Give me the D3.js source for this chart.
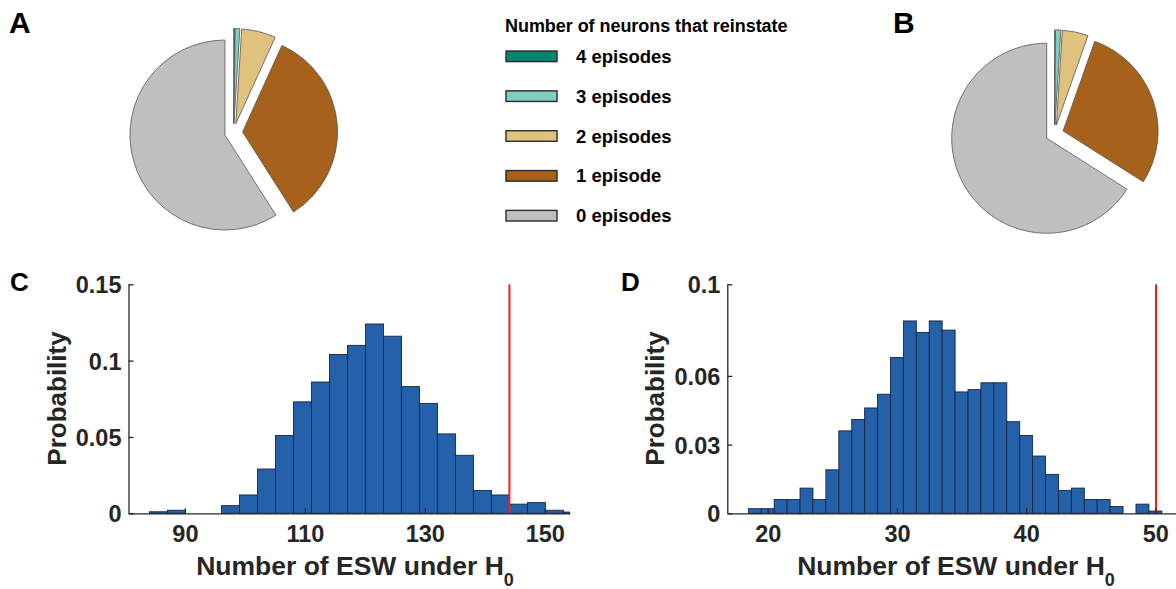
<!DOCTYPE html>
<html><head><meta charset="utf-8">
<script src="https://cdn.jsdelivr.net/npm/d3@7"></script>
<style>
html,body{margin:0;padding:0;background:#fff;}
svg{display:block;font-family:"Liberation Sans",Arial,Helvetica,sans-serif;}
</style></head>
<body><svg id="chart" width="1176" height="589"></svg>
<script>
// ---------- data ----------
const pieCategories = ["4 episodes", "3 episodes", "2 episodes", "1 episode", "0 episodes"];
const pieColors = ["#018571", "#80cdc1", "#dfc27d", "#a6611a", "#bfbfbf"];
const pieAValues = [0.2, 0.8, 5.8, 34.2, 59.0];
const pieBValues = [0.1, 0.9, 4.4, 28.6, 66.0];
const legendTitle = "Number of neurons that reinstate";

const histCCenters = [85.6, 88.6, 91.6, 94.6, 97.6, 100.6, 103.6, 106.6, 109.6, 112.6, 115.6, 118.6,
  121.6, 124.6, 127.6, 130.6, 133.6, 136.6, 139.6, 142.6, 145.6, 148.6, 151.6, 154.6];
const histCValues = [0.001, 0.002, 0, 0, 0.005, 0.012, 0.029, 0.051, 0.073, 0.086, 0.104, 0.110,
  0.124, 0.116, 0.083, 0.072, 0.052, 0.038, 0.015, 0.012, 0.006, 0.007, 0.002, 0.0008];
const histCBinWidth = 3;
const histCObserved = 144.1;
const histCXTicks = [90, 110, 130, 150];
const histCYTicks = [0, 0.05, 0.1, 0.15];
const histCYTickLabels = ["0", "0.05", "0.1", "0.15"];

const histDCenters = [19, 20, 21, 22, 23, 24, 25, 26, 27, 28, 29, 30, 31, 32, 33, 34, 35, 36, 37, 38,
  39, 40, 41, 42, 43, 44, 45, 46, 47, 48, 49, 50];
const histDValues = [0.002, 0.002, 0.006, 0.006, 0.011, 0.006, 0.019, 0.036, 0.041, 0.046, 0.052, 0.068,
  0.084, 0.079, 0.084, 0.080, 0.053, 0.054, 0.057, 0.057, 0.040, 0.034, 0.025, 0.017, 0.010, 0.011,
  0.006, 0.006, 0.003, 0, 0.004, 0.001];
const histDBinWidth = 1;
const histDObserved = 50.05;
const histDXTicks = [20, 30, 40, 50];
const histDYTicks = [0, 0.03, 0.06, 0.1];
const histDYTickLabels = ["0", "0.03", "0.06", "0.1"];

// ---------- drawing ----------
const svg = d3.select("#chart");
const axisColor = "#262626";

// panel letters
[["A", 9, 33], ["B", 893, 33], ["C", 10, 291], ["D", 621, 291]].forEach(([t, x, y], i) => {
  svg.append("text").attr("x", x).attr("y", y).text(t)
    .attr("font-size", i < 2 ? 30 : 26).attr("font-weight", "bold").attr("fill", "#000");
});

// pies
function drawPie(values, cx, cy, r, explode) {
  const pie = d3.pie().sort(null).startAngle(0).endAngle(2 * Math.PI);
  const arc = d3.arc().innerRadius(0).outerRadius(r);
  const g = svg.append("g").attr("transform", `translate(${cx},${cy})`);
  pie(values).forEach((d, i) => {
    const mid = (d.startAngle + d.endAngle) / 2;
    const dx = Math.sin(mid) * explode, dy = -Math.cos(mid) * explode;
    g.append("path").attr("d", arc(d))
      .attr("transform", `translate(${dx},${dy})`)
      .attr("fill", pieColors[i])
      .attr("stroke", "#555").attr("stroke-width", 0.8)
      .attr("stroke-linejoin", "round");
  });
}
drawPie(pieAValues, 233.6, 132.5, 95, 9);
drawPie(pieBValues, 1054.6, 133.9, 95, 9);

// legend
const lg = svg.append("g");
lg.append("text").attr("x", 505).attr("y", 32).text(legendTitle)
  .attr("font-size", 18).attr("font-weight", "bold").attr("fill", "#000").attr("letter-spacing", -0.05);
const legY = d3.scalePoint().domain(pieCategories).range([56.3, 215.7]);
pieCategories.forEach((c, i) => {
  lg.append("rect").attr("x", 506).attr("y", legY(c) - 5.3).attr("width", 51).attr("height", 10.6)
    .attr("fill", pieColors[i]).attr("stroke", "#2b2b2b").attr("stroke-width", 1.4);
  lg.append("text").attr("x", 576).attr("y", legY(c) + 6.5).text(c)
    .attr("font-size", 18.5).attr("font-weight", "bold").attr("fill", "#000");
});

// histograms
function drawHist(opt) {
  const x = d3.scaleLinear().domain(opt.xDomain).range(opt.xRange);
  const y = d3.scaleLinear().domain(opt.yDomain).range([513.3, 284.3]);
  const g = svg.append("g");
  const clipId = "clip" + opt.id;
  svg.append("clipPath").attr("id", clipId).append("rect")
    .attr("x", opt.xRange[0]).attr("y", 280).attr("width", opt.xRange[1] - opt.xRange[0]).attr("height", 240);
  const bars = g.append("g").attr("clip-path", `url(#${clipId})`);
  opt.centers.forEach((c, i) => {
    const x0 = x(c - opt.bw / 2), x1 = x(c + opt.bw / 2);
    bars.append("rect").attr("x", x0).attr("y", y(opt.values[i]))
      .attr("width", x1 - x0).attr("height", y(0) - y(opt.values[i]))
      .attr("fill", "#2461a9").attr("stroke", "#17263f").attr("stroke-width", 0.9);
  });
  // red observed line
  g.append("line").attr("x1", x(opt.observed)).attr("x2", x(opt.observed))
    .attr("y1", y(0)).attr("y2", y(opt.yDomain[1]))
    .attr("stroke", "#ff1a1a").attr("stroke-width", 2);

  // axes
  const xAxis = d3.axisBottom(x).tickValues(opt.xTicks).tickSize(-5).tickPadding(12).tickSizeOuter(0);
  const gx = g.append("g").attr("transform", `translate(0,${y(0)})`).call(xAxis);
  const yAxis = d3.axisLeft(y).tickValues(opt.yTicks).tickFormat((d, i) => opt.yTickLabels[i])
    .tickSize(-5).tickPadding(7).tickSizeOuter(0);
  const gy = g.append("g").attr("transform", `translate(${opt.xRange[0]},0)`).call(yAxis);
  [gx, gy].forEach(a => {
    a.select(".domain").attr("stroke", axisColor).attr("stroke-width", 1.3);
    a.selectAll(".tick line").attr("stroke", axisColor).attr("stroke-width", 1.3);
    a.selectAll(".tick text").attr("fill", axisColor).attr("font-size", 23.5)
      .attr("font-weight", "bold").attr("font-family", "Liberation Sans, Arial, sans-serif");
  });
  gx.selectAll(".tick text").attr("dy", "0.71em");
  gy.selectAll(".tick text").attr("dy", "0.36em");

  // labels
  g.append("text").attr("transform", `translate(${opt.ylabX},398.5) rotate(-90)`)
    .attr("text-anchor", "middle").attr("font-size", 26).attr("font-weight", "bold")
    .attr("fill", axisColor).text("Probability");
  const xl = g.append("text").attr("x", opt.xlabX).attr("y", 575).attr("text-anchor", "middle")
    .attr("font-size", 26.5).attr("font-weight", "bold").attr("fill", axisColor);
  xl.append("tspan").text("Number of ESW under H");
  xl.append("tspan").attr("dy", 11).attr("font-size", 18).text("0");
}

drawHist({
  id: "C", xDomain: [80.6, 154.2], xRange: [128.5, 570], yDomain: [0, 0.15],
  centers: histCCenters, values: histCValues, bw: histCBinWidth, observed: histCObserved,
  xTicks: histCXTicks, yTicks: histCYTicks, yTickLabels: histCYTickLabels, ylabX: 66, xlabX: 355
});
drawHist({
  id: "D", xDomain: [16.87, 52.1], xRange: [727.3, 1182.5], yDomain: [0, 0.1],
  centers: histDCenters, values: histDValues, bw: histDBinWidth, observed: histDObserved,
  xTicks: histDXTicks, yTicks: histDYTicks, yTickLabels: histDYTickLabels, ylabX: 664, xlabX: 956
});
</script></body></html>
